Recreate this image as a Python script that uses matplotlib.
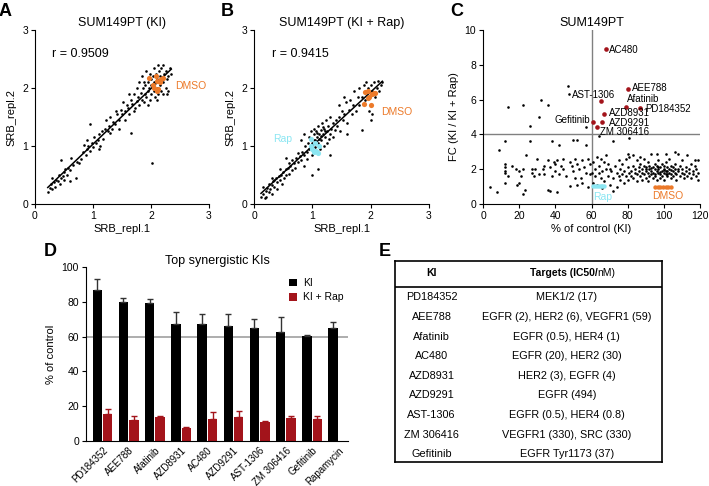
import matplotlib.pyplot as plt
import numpy as np

plt.rcParams['font.family'] = ['Liberation Sans', 'DejaVu Sans']

# ---- panel A data (SRB replicates, KI)
a_pts = [(0.22,0.2),(0.25,0.28),(0.27,0.35),(0.3,0.25),(0.3,0.45),(0.33,0.38),(0.35,0.3),(0.37,0.42),
         (0.4,0.4),(0.42,0.5),(0.43,0.35),(0.45,0.45),(0.45,0.75),(0.48,0.48),(0.5,0.55),(0.5,0.42),
         (0.52,0.6),(0.55,0.5),(0.57,0.62),(0.6,0.58),(0.62,0.8),(0.65,0.68),(0.7,0.45),(0.72,0.72),
         (0.75,0.7),(0.8,0.78),(0.82,0.9),(0.85,1.02),(0.88,0.85),(0.9,0.95),(0.92,1.0),(0.95,0.92),
         (0.95,1.38),(0.98,1.05),(1.0,0.98),(1.02,1.15),(1.05,1.05),(1.08,1.1),(1.1,1.2),(1.12,1.0),
         (1.15,1.25),(1.18,1.12),(1.2,1.3),(1.22,1.45),(1.25,1.25),(1.28,1.35),(1.3,1.5),(1.32,1.3),
         (1.35,1.42),(1.38,1.38),(1.4,1.6),(1.42,1.55),(1.45,1.45),(1.45,1.3),(1.5,1.55),(1.52,1.75),
         (1.55,1.6),(1.55,1.45),(1.58,1.7),(1.6,1.65),(1.62,1.55),(1.65,1.8),(1.65,1.22),(1.68,1.72),
         (1.7,1.9),(1.72,1.65),(1.75,1.78),(1.75,2.0),(1.78,1.85),(1.8,1.7),(1.8,2.1),(1.82,1.92),
         (1.85,1.8),(1.85,2.2),(1.87,2.0),(1.88,1.75),(1.9,2.05),(1.9,1.9),(1.92,2.3),(1.92,1.85),
         (1.95,2.1),(1.95,1.95),(1.97,2.0),(1.98,1.8),(2.0,2.15),(2.0,1.9),(2.0,2.05),(2.02,0.7),
         (2.03,2.2),(2.05,1.95),(2.05,2.1),(2.07,1.85),(2.08,2.25),(2.1,2.0),(2.1,2.15),(2.12,1.9),
         (2.13,2.3),(2.15,2.05),(2.15,2.2),(2.17,1.95),(2.18,2.35),(2.2,2.1),(2.2,1.9),(2.22,2.25),
         (2.25,2.0),(2.25,2.3),(2.28,2.15),(2.3,2.2),(2.32,2.35),(2.35,2.25),(2.2,2.4),(2.27,1.9),
         (2.05,2.35),(1.98,2.25),(1.88,2.1),(1.7,1.6),(1.62,1.9),(2.1,1.8),(0.6,0.4),(1.1,0.95),
         (1.48,1.62),(1.3,1.22),(0.9,1.1),(1.95,1.7),(2.3,1.95),(2.12,2.4)]
a_dmso = [(1.97,2.17),(2.03,2.05),(2.08,2.2),(2.1,2.12),(2.12,1.98),(2.15,2.1),(2.18,2.15),
          (2.06,2.0),(2.1,1.95),(2.2,2.17)]

# ---- panel B data (SRB replicates, KI + Rap)
b_pts = [(0.12,0.12),(0.15,0.18),(0.15,0.3),(0.18,0.1),(0.2,0.22),(0.22,0.28),(0.25,0.2),(0.25,0.35),
         (0.28,0.25),(0.3,0.32),(0.3,0.18),(0.33,0.4),(0.35,0.3),(0.37,0.45),(0.4,0.38),(0.4,0.25),
         (0.42,0.48),(0.45,0.42),(0.47,0.5),(0.48,0.35),(0.5,0.55),(0.52,0.45),(0.55,0.6),(0.55,0.5),
         (0.58,0.62),(0.6,0.52),(0.6,0.7),(0.62,0.65),(0.65,0.58),(0.65,0.75),(0.68,0.7),(0.7,0.62),
         (0.72,0.8),(0.75,0.72),(0.75,0.88),(0.78,0.82),(0.8,0.75),(0.82,0.9),(0.85,0.85),(0.85,0.65),
         (0.88,1.0),(0.9,0.9),(0.9,0.78),(0.55,0.8),(0.45,0.6),(0.3,0.45),(0.2,0.12),(0.35,0.42),
         (0.92,1.05),(0.95,0.95),(0.95,1.15),(0.97,1.25),(1.0,1.05),(1.0,0.85),(1.02,1.2),(1.03,1.3),
         (1.05,1.1),(1.05,0.98),(1.07,1.25),(1.08,1.15),(1.1,1.05),(1.1,1.35),(1.12,1.2),(1.13,0.95),
         (1.15,1.28),(1.15,1.1),(1.17,1.4),(1.18,1.2),(1.2,1.0),(1.2,1.3),(1.22,1.15),(1.23,1.45),
         (1.25,1.25),(1.25,1.05),(1.27,1.35),(1.3,1.2),(1.3,1.5),(1.32,1.3),(1.35,1.15),(1.35,1.4),
         (1.38,1.28),(1.4,1.45),(1.0,0.5),(1.1,0.6),(1.3,0.85),(0.8,1.1),(0.85,1.2),(1.12,1.12),
         (1.18,1.32),(1.08,1.22),(1.22,1.25),(1.15,1.18),(1.28,1.12),(1.02,1.1),
         (1.42,1.35),(1.45,1.5),(1.48,1.25),(1.5,1.6),(1.52,1.45),(1.55,1.55),(1.58,1.75),(1.6,1.4),
         (1.62,1.62),(1.65,1.8),(1.68,1.55),(1.7,1.7),(1.72,1.95),(1.75,1.6),(1.78,1.85),(1.8,2.0),
         (1.8,1.7),(1.85,1.85),(1.85,1.28),(1.88,2.05),(1.9,1.8),(1.92,2.1),(1.95,2.0),(1.98,1.6),
         (2.0,2.05),(2.02,1.55),(2.03,1.95),(2.05,2.1),(2.07,1.85),(2.1,2.0),(2.12,2.12),(2.15,1.95),
         (2.18,2.05),(2.2,2.1),(2.0,1.45),(1.55,1.85),(1.45,1.7),(1.6,1.2)]
b_dmso = [(1.88,1.72),(1.9,1.93),(1.95,1.82),(1.97,1.85),(2.0,1.7),(2.02,1.9),(2.05,1.92),
          (2.08,1.92),(1.95,1.95)]
b_rap = [(0.97,1.0),(1.0,0.95),(1.03,0.9),(1.07,0.92),(1.1,0.88),(1.12,1.0),(1.05,1.05),(0.98,1.12)]

# ---- panel C data (% of control vs fold change)
c_pts = [(4,1.0),(8,0.7),(9,3.1),(12,3.6),(12,2.3),(12,2.1),(12,1.9),(12,1.8),(12,1.2),(14,5.6),
         (14,1.6),(16,2.2),(18,2.0),(19,1.1),(20,1.2),(20,1.9),(21,1.6),(22,5.7),(22,2.0),(22,0.6),
         (23,0.8),(24,2.8),(26,4.5),(26,3.6),(27,2.0),(27,1.8),(28,1.6),(29,2.0),(30,2.6),(31,5.0),
         (31,1.7),(32,6.0),(33,2.0),(34,1.7),(34,2.2),(36,5.7),(36,2.5),(36,0.8),(37,0.75),(37,2.1),
         (38,3.6),(38,1.6),(39,2.4),(40,1.9),(40,2.3),(41,2.5),(41,0.7),(42,3.4),(42,1.7),(43,2.2),
         (44,2.6),(44,2.0),(46,1.6),(47,6.8),(47.5,6.35),(48,1.05),(48,2.4),(49,2.2),(50,3.7),(50,1.9),
         (51,2.6),(51,1.5),(52,3.65),(52,2.3),(52,1.1),(53,2.0),(54,1.5),(55,2.5),(55,1.2),(56,2.1),
         (57,4.4),(57,3.4),(57,1.8),(58,2.6),(58,1.0),(59,1.7),(59,2.3),
         (60,1.8),(61,2.4),(61,1.2),(62,2.0),(62,1.6),(63,2.7),(63,1.1),(64,3.9),(64,2.2),(64,1.8),
         (65,1.5),(65,2.6),(66,1.9),(66,0.9),(67,2.4),(67,1.3),(68,2.8),(68,2.0),(69,1.6),(69,2.3),
         (70,1.1),(70,2.0),(71,1.9),(72,3.6),(72,0.75),(72,1.5),(73,2.2),(74,1.8),(74,1.0),(75,2.5),
         (75,1.6),(76,2.0),(76,1.4),(77,1.7),(77,2.3),(78,1.9),(78,1.2),(79,2.6),(79,1.6),(80,2.9),
         (80,2.1),(80,1.4),(81,3.8),(81,2.7),(81,1.8),
         (82,1.9),(82,1.6),(83,2.2),(83,1.5),(84,1.8),(84,2.0),(85,2.5),(85,1.7),(85,1.3),(86,2.1),
         (86,1.9),(87,1.6),(87,2.3),(88,1.8),(88,2.0),(88,1.4),(89,2.6),(89,1.7),(89,2.2),(90,1.9),
         (90,1.5),(90,2.1),(91,1.8),(91,2.4),(91,1.3),(92,2.0),(92,1.6),(92,2.2),(93,1.9),(93,1.7),
         (93,2.9),(94,2.1),(94,1.5),(94,1.8),(95,2.3),(95,2.0),(95,1.6),(96,1.9),(96,2.2),(96,1.4),
         (97,1.8),(97,2.0),(97,2.5),(98,1.7),(98,2.1),(98,1.5),(99,1.9),(99,2.3),(99,1.6),(100,2.0),
         (100,1.8),(100,2.2),(100,1.4),(101,1.9),(101,2.4),(101,1.7),(102,2.1),(102,1.6),(102,1.9),
         (103,2.0),(103,1.8),(103,2.6),(104,1.7),(104,2.2),(104,1.5),(105,1.9),(105,2.1),(105,1.6),
         (106,2.0),(106,1.8),(106,2.3),(107,1.7),(107,1.4),(108,2.0),(108,1.9),(108,2.9),(109,1.6),
         (109,2.2),(110,1.8),(110,2.0),(110,2.5),(111,1.7),(111,1.5),(112,2.1),(112,1.9),(113,2.8),
         (113,1.6),(114,2.0),(114,1.8),(115,2.3),(115,1.5),(116,1.9),(116,1.7),(117,2.2),(117,2.5),
         (118,1.6),(118,2.0),(119,2.5),(119,1.4),(119,1.8),(106,3.0),(101,2.9),(96,2.9),(87,2.7),
         (83,2.8),(90,2.0),(95,1.75),(100,1.95),(104,1.95),(98,1.85),(93,2.05),(102,1.75),(97,2.15)]
c_hits = ['AC480', 'AEE788', 'AST-1306', 'Afatinib', 'PD184352', 'AZD8931', 'AZD9291', 'Gefitinib', 'ZM 306416']
c_hit_x = [68, 80, 65, 79, 87, 67, 66, 61, 63]
c_hit_y = [8.9, 6.6, 5.9, 5.6, 5.5, 5.2, 4.7, 4.7, 4.45]
c_lab_x = [69.9, 82.2, 49, 79.5, 89.6, 69.9, 69.4, 59.2, 64.7]
c_lab_y = [8.85, 6.68, 6.27, 6.02, 5.45, 5.22, 4.68, 4.82, 4.16]
c_rap_x = [61, 62, 63, 64, 65, 66, 67]
c_dmso_x = [95, 96.5, 98, 99.5, 101, 102.5, 104]

# ---- panel D data
d_names = ['PD184352', 'AEE788', 'Afatinib', 'AZD8931', 'AC480', 'AZD9291', 'AST-1306',
           'ZM 306416', 'Gefitinib', 'Rapamycin']
d_ki = [87, 80, 79.5, 67.5, 67, 66, 65, 62.5, 60.5, 65]
d_ki_err = [6, 2, 2, 6.5, 6, 7, 5, 8.5, 0.5, 3.5]
d_rap = [15.5, 12, 14, 7.5, 12.5, 14, 11, 13.5, 12.5]
d_rap_err = [3, 2.5, 0.5, 0.5, 4, 3, 0.7, 1, 2]

# ---- panel E table
e_ki = ['PD184352', 'AEE788', 'Afatinib', 'AC480', 'AZD8931', 'AZD9291', 'AST-1306', 'ZM 306416', 'Gefitinib']
e_targets = ['MEK1/2 (17)', 'EGFR (2), HER2 (6), VEGFR1 (59)', 'EGFR (0.5), HER4 (1)',
             'EGFR (20), HER2 (30)', 'HER2 (3), EGFR (4)', 'EGFR (494)', 'EGFR (0.5), HER4 (0.8)',
             'VEGFR1 (330), SRC (330)', 'EGFR Tyr1173 (37)']

orange = '#EC7A2A'
cyan = '#8BE6F2'
dred = '#A3141B'
W, H = 709, 486

fig = plt.figure(figsize=(7.09, 4.86), dpi=100)


def px_axes(l, t, r, b):
    return fig.add_axes([l / W, 1 - b / H, (r - l) / W, (b - t) / H])


def style(ax):
    ax.spines['top'].set_visible(False)
    ax.spines['right'].set_visible(False)
    ax.tick_params(labelsize=7.5, length=3, width=0.8, pad=2)


# A and B
for ax_pos, pts, dmso, title, rtxt, dmso_xy in [
        ((35, 30, 209, 204), a_pts, a_dmso, 'SUM149PT (KI)', 'r = 0.9509', (2.42, 2.03)),
        ((254, 30, 429, 204), b_pts, b_dmso, 'SUM149PT (KI + Rap)', 'r = 0.9415', (2.18, 1.59))]:
    ax = px_axes(*ax_pos)
    style(ax)
    x = np.array([p[0] for p in pts])
    y = np.array([p[1] for p in pts])
    ax.scatter(x, y, s=3.5, c='black', lw=0, zorder=2)
    k, c0 = np.polyfit(x, y, 1)
    xx = np.array([x.min(), x.max()])
    ax.plot(xx, k * xx + c0, color='black', lw=1.1, zorder=3)
    ax.scatter([p[0] for p in dmso], [p[1] for p in dmso], s=14, c=orange, lw=0, zorder=4)
    ax.text(dmso_xy[0], dmso_xy[1], 'DMSO', color=orange, fontsize=7.5, va='center')
    if pts is b_pts:
        ax.scatter([p[0] for p in b_rap], [p[1] for p in b_rap], s=14, c=cyan, lw=0, zorder=4)
        ax.text(0.33, 1.12, 'Rap', color=cyan, fontsize=7.5, va='center')
    ax.text(0.3, 2.58, rtxt, fontsize=9, va='center')
    ax.set_xlim(0, 3)
    ax.set_ylim(0, 3)
    ax.set_xticks([0, 1, 2, 3])
    ax.set_yticks([0, 1, 2, 3])
    ax.set_xlabel('SRB_repl.1', fontsize=8, labelpad=2)
    ax.set_ylabel('SRB_repl.2', fontsize=8, labelpad=4)
    ax.set_title(title, fontsize=9, pad=3)

# C
ax = px_axes(483, 30, 700, 204)
style(ax)
ax.axvline(60, color='#808080', lw=1, zorder=1)
ax.axhline(4, color='#808080', lw=1, zorder=1)
ax.scatter([p[0] for p in c_pts], [p[1] for p in c_pts], s=3.5, c='black', lw=0, zorder=2)
ax.scatter(c_hit_x, c_hit_y, s=11, c=dred, lw=0, zorder=3)
for name, lx, ly in zip(c_hits, c_lab_x, c_lab_y):
    ha = 'right' if name == 'Gefitinib' else 'left'
    ax.text(lx, ly, name, fontsize=7, va='center', ha=ha)
ax.scatter(c_rap_x, [1.05] * len(c_rap_x), s=10, c=cyan, lw=0, zorder=3)
ax.text(66, 0.4, 'Rap', color=cyan, fontsize=7.5, ha='center', va='center')
ax.scatter(c_dmso_x, [1.0] * len(c_dmso_x), s=10, c=orange, lw=0, zorder=3)
ax.text(102, 0.44, 'DMSO', color=orange, fontsize=7.5, ha='center', va='center')
ax.set_xlim(0, 120)
ax.set_ylim(0, 10)
ax.set_xticks(range(0, 121, 20))
ax.set_yticks(range(0, 11, 2))
ax.set_xlabel('% of control (KI)', fontsize=8, labelpad=2)
ax.set_ylabel('FC (KI / KI + Rap)', fontsize=8, labelpad=4)
ax.set_title('SUM149PT', fontsize=9, pad=3)

# D
ax = px_axes(86, 267, 348, 441)
style(ax)
pos = np.arange(len(d_names))
bw = 0.36
ax.axhline(60, color='#a0a0a0', lw=1.2, zorder=1)
ax.bar(pos - 0.2, d_ki, bw, color='black', label='KI', zorder=2)
ax.errorbar(pos - 0.2, d_ki, yerr=[np.zeros(len(d_ki)), d_ki_err], fmt='none',
            ecolor='#333333', elinewidth=1, capsize=2, capthick=1, zorder=3)
rp = pos[:len(d_rap)] + 0.2
ax.bar(rp, d_rap, bw, color=dred, label='KI + Rap', zorder=2)
ax.errorbar(rp, d_rap, yerr=[np.zeros(len(d_rap)), d_rap_err], fmt='none',
            ecolor=dred, elinewidth=1, capsize=2, capthick=1, zorder=3)
ax.set_xlim(-0.63, 9.37)
ax.set_ylim(0, 100)
ax.set_yticks(range(0, 101, 20))
ax.set_xticks(pos)
ax.set_xticklabels(d_names, rotation=45, ha='right', rotation_mode='anchor', fontsize=7)
ax.tick_params(axis='x', length=0, pad=3)
ax.set_ylabel('% of control', fontsize=8, labelpad=4)
ax.set_title('Top synergistic KIs', fontsize=9, pad=0.5)
ax.legend(loc='upper right', bbox_to_anchor=(1.02, 0.99), frameon=False, fontsize=7.5,
          handlelength=0.8, handleheight=0.8, handletextpad=0.6, labelspacing=0.4)

# E
ax = px_axes(395, 261, 662, 462)
ax.set_xlim(0, 267)
ax.set_ylim(201, 0)
ax.set_xticks([])
ax.set_yticks([])
for s in ax.spines.values():
    s.set_linewidth(1.2)
ax.axhline(26, color='black', lw=1.2)
ax.text(36.7, 12.3, 'KI', fontsize=7.5, fontweight='bold', ha='center', va='center')
ax.text(202.3, 12.3, 'Targets (IC50/', fontsize=7.5, fontweight='bold', ha='right', va='center')
ax.text(202.3, 12.3, 'nM)', fontsize=7.5, ha='left', va='center')
for i, (k_name, tgt) in enumerate(zip(e_ki, e_targets)):
    yy = 36.3 + i * 19.6
    ax.text(36.7, yy, k_name, fontsize=7.8, ha='center', va='center')
    ax.text(171.7, yy, tgt, fontsize=7.8, ha='center', va='center')

# panel letters
for lt, x, y in [('A', 5, 12), ('B', 227, 12), ('C', 457, 12), ('D', 50, 252), ('E', 385, 252)]:
    fig.text(x / W, 1 - y / H, lt, fontsize=13, fontweight='bold', ha='center', va='center')

fig.savefig('out.png', dpi=100)
